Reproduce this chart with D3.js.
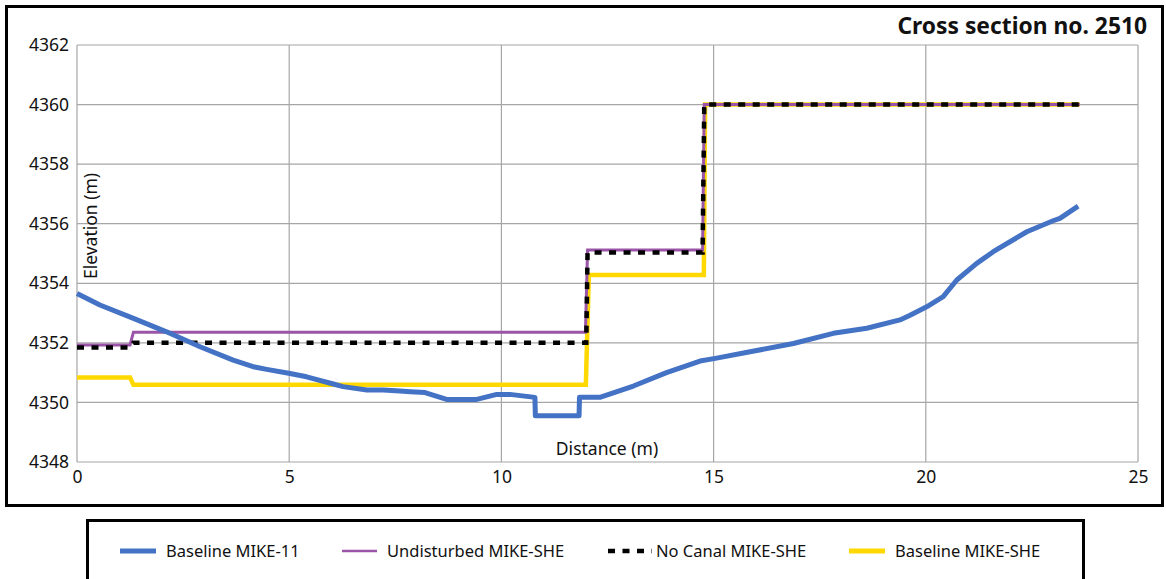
<!DOCTYPE html>
<html lang="en">
<head>
  <meta charset="UTF-8">
  <script src="https://cdn.jsdelivr.net/npm/d3@7"></script>
  <title>Cross section no. 2510</title>
  <style>
    body { margin: 0; background: #fff; }
    text { font-family: "Noto Sans", sans-serif; fill: #111; }
  </style>
</head>
<body>
  <svg width="1166" height="579" id="chart"></svg>
  <script>
    // tick values
    let xTicks = [0, 5, 10, 15, 20, 25];
    let yTicks = [4348, 4350, 4352, 4354, 4356, 4358, 4360, 4362];

    // Baseline MIKE-11 (surveyed profile)
    let blueDist = [0, 0.54, 1.33, 2.11, 2.90, 3.68, 4.15, 4.47, 4.99, 5.41, 6.04, 6.27, 6.83, 7.22, 7.61, 7.85, 8.2, 8.71, 9.42, 9.89, 10.20, 10.79, 10.80, 11.83, 11.84, 12.32, 13.11, 13.89, 14.68, 15.04, 15.86, 16.88, 17.82, 18.61, 19.39, 19.63, 20.02, 20.41, 20.73, 21.20, 21.59, 22.38, 23.0, 23.16, 23.59];
    let blueElev = [4353.66, 4353.27, 4352.82, 4352.37, 4351.87, 4351.42, 4351.20, 4351.11, 4350.98, 4350.86, 4350.62, 4350.53, 4350.42, 4350.42, 4350.38, 4350.36, 4350.33, 4350.10, 4350.10, 4350.27, 4350.27, 4350.17, 4349.55, 4349.55, 4350.17, 4350.17, 4350.55, 4351.00, 4351.39, 4351.48, 4351.70, 4351.98, 4352.32, 4352.49, 4352.77, 4352.93, 4353.21, 4353.55, 4354.11, 4354.67, 4355.06, 4355.73, 4356.10, 4356.18, 4356.59];

    // Undisturbed MIKE-SHE
    let purpleDist = [0, 1.25, 1.33, 11.98, 12.03, 14.74, 14.78, 23.63];
    let purpleElev = [4351.93, 4351.93, 4352.36, 4352.36, 4355.12, 4355.12, 4360, 4360];

    // No Canal MIKE-SHE
    let blackDist = [0, 1.25, 1.33, 12.0, 12.03, 14.74, 14.78, 23.63];
    let blackElev = [4351.84, 4351.84, 4352.0, 4352.0, 4355.03, 4355.03, 4360, 4360];

    // Baseline MIKE-SHE
    let yellowDist = [0, 1.25, 1.33, 11.99, 12.06, 14.77, 14.80, 23.63];
    let yellowElev = [4350.84, 4350.84, 4350.59, 4350.59, 4354.28, 4354.28, 4360, 4360];

    let svg = d3.select("#chart");

    // outer frame
    svg.append("rect")
      .attr("x", 6.5).attr("y", 6.5)
      .attr("width", 1156).attr("height", 499)
      .attr("fill", "none").attr("stroke", "#000").attr("stroke-width", 3);

    /* SCALES */
    let scaleX = d3.scaleLinear().domain([0, 25]).range([77, 1138]);
    let scaleY = d3.scaleLinear().domain([4348, 4362]).range([462, 45]);

    /* GRID */
    let grid = svg.append("g");
    grid.selectAll(".gx").data(xTicks).enter().append("line")
      .attr("x1", d => scaleX(d)).attr("x2", d => scaleX(d))
      .attr("y1", scaleY(4348)).attr("y2", scaleY(4362))
      .attr("stroke", "#a6a6a6").attr("stroke-width", 1.2);
    grid.selectAll(".gy").data(yTicks).enter().append("line")
      .attr("x1", scaleX(0)).attr("x2", scaleX(25))
      .attr("y1", d => scaleY(d)).attr("y2", d => scaleY(d))
      .attr("stroke", "#a6a6a6").attr("stroke-width", 1.2);

    /* AXES */
    let axisX = d3.axisBottom(scaleX).tickValues(xTicks).tickSize(0).tickPadding(9);
    let gx = svg.append("g").attr("transform", "translate(0," + scaleY(4348) + ")").call(axisX);
    let axisY = d3.axisLeft(scaleY).tickValues(yTicks).tickSize(0).tickPadding(8).tickFormat(d3.format("d"));
    let gy = svg.append("g").attr("transform", "translate(" + scaleX(0) + ",0)").call(axisY);
    [gx, gy].forEach(g => {
      g.select(".domain").remove();
      g.selectAll("text").style("font-family", "'Noto Sans', sans-serif").style("font-size", "17.5px").attr("fill", "#111");
    });

    /* LINES */
    let line = d3.line().x(d => scaleX(d[0])).y(d => scaleY(d[1]));
    let zip = (a, b) => a.map((v, i) => [v, b[i]]);

    svg.append("path").datum(zip(yellowDist, yellowElev)).attr("d", line)
      .attr("fill", "none").attr("stroke", "#ffd800").attr("stroke-width", 4.5);
    svg.append("path").datum(zip(purpleDist, purpleElev)).attr("d", line)
      .attr("fill", "none").attr("stroke", "#9b55a8").attr("stroke-width", 3);
    svg.append("path").datum(zip(blackDist, blackElev)).attr("d", line)
      .attr("fill", "none").attr("stroke", "#000").attr("stroke-width", 4.5)
      .attr("stroke-dasharray", "7,7.5");
    svg.append("path").datum(zip(blueDist, blueElev)).attr("d", line)
      .attr("fill", "none").attr("stroke", "#4472c4").attr("stroke-width", 5)
      .attr("stroke-linejoin", "round");

    /* TITLES */
    svg.append("text").text("Cross section no. 2510")
      .attr("x", 1147).attr("y", 34).attr("text-anchor", "end")
      .style("font-weight", "bold").style("font-size", "22.8px").attr("fill", "#000");
    svg.append("text").text("Distance (m)")
      .attr("x", 607).attr("y", 455).attr("text-anchor", "middle")
      .style("font-size", "17.5px");
    svg.append("text").text("Elevation (m)")
      .attr("transform", "translate(97,226) rotate(-90)")
      .attr("text-anchor", "middle")
      .style("font-size", "17.5px");

    /* LEGEND */
    svg.append("rect")
      .attr("x", 87.5).attr("y", 520.5)
      .attr("width", 996).attr("height", 80)
      .attr("fill", "none").attr("stroke", "#000").attr("stroke-width", 3);

    let legend = [
      {name: "Baseline MIKE-11", color: "#4472c4", width: 5, dash: null, x0: 120, x1: 156, tx: 166},
      {name: "Undisturbed MIKE-SHE", color: "#9b55a8", width: 2.5, dash: null, x0: 342, x1: 377, tx: 387},
      {name: "No Canal MIKE-SHE", color: "#000", width: 4.5, dash: "7,7.5", x0: 608, x1: 652, tx: 656},
      {name: "Baseline MIKE-SHE", color: "#ffd800", width: 5, dash: null, x0: 849, x1: 885, tx: 895}
    ];
    let items = svg.selectAll(".legend-item").data(legend).enter().append("g");
    items.append("line")
      .attr("x1", d => d.x0).attr("x2", d => d.x1)
      .attr("y1", 551).attr("y2", 551)
      .attr("stroke", d => d.color).attr("stroke-width", d => d.width)
      .attr("stroke-dasharray", d => d.dash);
    items.append("text").text(d => d.name)
      .attr("x", d => d.tx).attr("y", 557)
      .style("font-size", "16.5px");
  </script>
</body>
</html>
